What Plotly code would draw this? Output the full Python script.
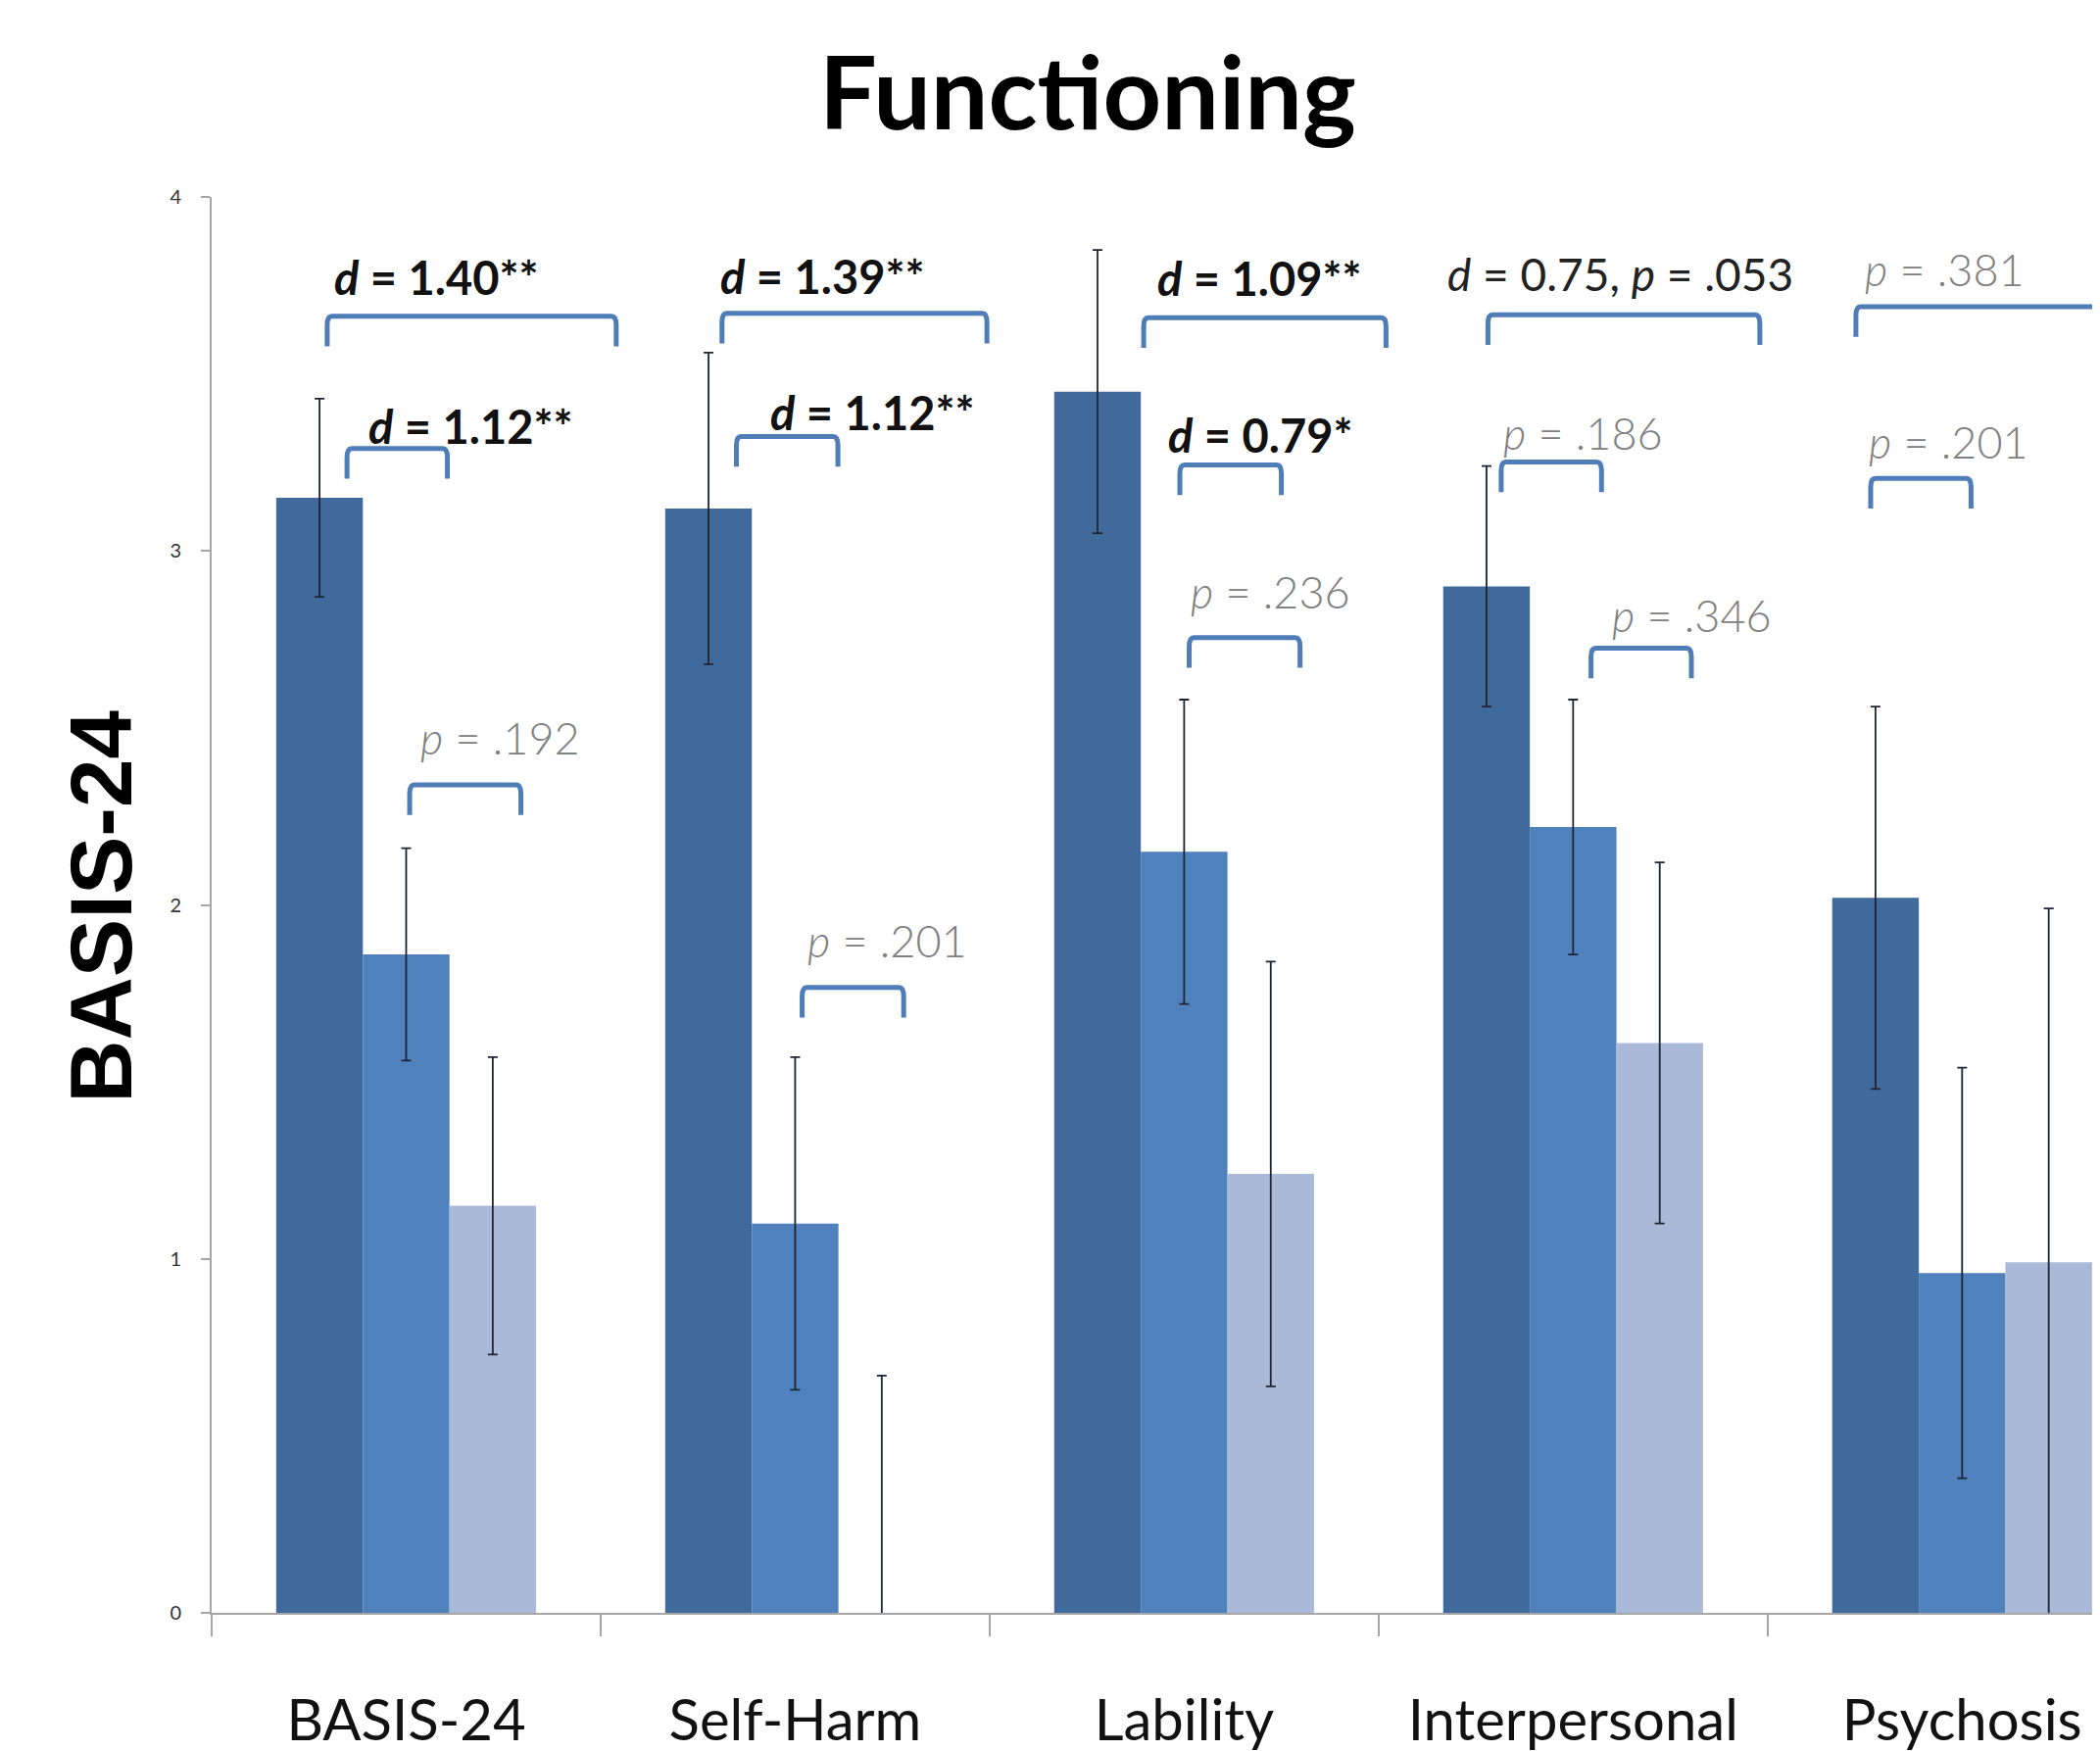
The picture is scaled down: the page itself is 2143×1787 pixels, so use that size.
import plotly.graph_objects as go

categories = ["BASIS-24", "Self-Harm", "Lability", "Interpersonal", "Psychosis"]
series_names = ["Group 1", "Group 2", "Group 3"]
dark_vals = [3.15, 3.12, 3.45, 2.90, 2.02]
dark_err = [0.28, 0.44, 0.40, 0.34, 0.54]
med_vals = [1.86, 1.10, 2.15, 2.22, 0.96]
med_err = [0.30, 0.47, 0.43, 0.36, 0.58]
light_vals = [1.15, 0.00, 1.24, 1.61, 0.99]
light_err = [0.42, 0.67, 0.60, 0.51, 1.00]
y_ticks = [0, 1, 2, 3, 4]

# significance brackets: (category, left offset, right offset, bracket top, label, label dx, label y, style)
brackets = [
    (0, -0.203, 0.540, 3.663, "d = 1.40**", 0.078, 3.773, "bold"),
    (0, -0.152, 0.106, 3.289, "d = 1.12**", 0.165, 3.353, "bold"),
    (0, 0.009, 0.295, 2.339, "p = .192", 0.241, 2.471, "gray"),
    (1, -0.188, 0.493, 3.671, "d = 1.39**", 0.070, 3.777, "bold"),
    (1, -0.151, 0.110, 3.323, "d = 1.12**", 0.197, 3.391, "bold"),
    (1, 0.018, 0.279, 1.767, "p = .201", 0.238, 1.900, "gray"),
    (2, -0.104, 0.519, 3.659, "d = 1.09**", 0.192, 3.769, "bold"),
    (2, -0.011, 0.250, 3.243, "d = 0.79*", 0.195, 3.326, "bold"),
    (2, 0.013, 0.298, 2.755, "p = .236", 0.223, 2.884, "gray"),
    (3, -0.219, 0.480, 3.667, "d = 0.75, p = .053", 0.121, 3.784, "plain"),
    (3, -0.185, 0.073, 3.251, "p = .186", 0.025, 3.334, "gray"),
    (3, 0.046, 0.304, 2.725, "p = .346", 0.304, 2.819, "gray"),
    (4, -0.273, 0.347, 3.690, "p = .381", -0.046, 3.796, "gray"),
    (4, -0.235, 0.023, 3.205, "p = .201", -0.035, 3.307, "gray"),
]

colors = ["#416A9C", "#4F81BD", "#A9B9D7"]
FONT = "Lato"
x_idx = list(range(len(categories)))

fig = go.Figure()
for name, vals, errs, col in zip(series_names, [dark_vals, med_vals, light_vals],
                                 [dark_err, med_err, light_err], colors):
    fig.add_trace(go.Bar(
        x=x_idx, y=vals, name=name, marker=dict(color=col, line=dict(width=0)),
        error_y=dict(type="data", array=errs, visible=True, color="#1f2433",
                     thickness=1.8, width=5),
    ))

drop = 0.085
rx = 0.012
cy = 0.025
for cat, lo, hi, top, label, ldx, ly, style in brackets:
    x0 = cat + lo
    x1 = cat + hi
    yd = top - drop
    path = (f"M {x0},{yd} L {x0},{top - cy} Q {x0},{top} {x0 + rx},{top} "
            f"L {x1 - rx},{top} Q {x1},{top} {x1},{top - cy} L {x1},{yd}")
    fig.add_shape(type="path", path=path, xref="x", yref="y",
                  line=dict(color="#4F7DB8", width=5))
    if style == "bold":
        head, rest = label.split(" ", 1)
        txt = f"<b><i>{head}</i> {rest}</b>"
        fcol = "#111111"
        weight = "bold"
        size = 47
    elif style == "plain":
        txt = label.replace("d =", "<i>d</i> =").replace("p =", "<i>p</i> =")
        fcol = "#222222"
        weight = "normal"
        size = 46
    else:
        txt = label.replace("p =", "<i>p</i> =")
        fcol = "#808080"
        weight = 300
        size = 45
    fig.add_annotation(x=cat + ldx, y=ly, xref="x", yref="y", text=txt,
                       showarrow=False, xanchor="center", yanchor="middle",
                       font=dict(family=FONT, size=size, color=fcol, weight=weight))

# y-axis title
fig.add_annotation(x=-0.0586, y=0.4985, xref="paper", yref="paper", text="<b>BASIS-24</b>",
                   textangle=-90, showarrow=False, xanchor="center", yanchor="middle",
                   font=dict(family="Liberation Sans", size=89, color="#000000"))

fig.update_layout(
    width=2143, height=1787,
    margin=dict(l=208, r=7, t=193, b=147),
    paper_bgcolor="white", plot_bgcolor="white",
    barmode="group", bargap=0.332, bargroupgap=0,
    showlegend=False,
    title=dict(text="<b>Functioning</b>", x=0.5142, y=0.9508, xanchor="center", yanchor="middle",
               font=dict(family=FONT, size=104, color="#000000")),
    xaxis=dict(
        range=[-0.5, 4.357], tickmode="array", tickvals=x_idx, ticktext=categories,
        ticks="", showgrid=False, zeroline=False,
        showline=True, linecolor="#A6A6A6", linewidth=2,
        tickfont=dict(family=FONT, size=58, color="#111111"),
        ticklabelstandoff=58,
        minor=dict(tickmode="array", tickvals=[-0.5, 0.5, 1.5, 2.5, 3.5], ticks="outside",
                   ticklen=22, tickwidth=2, tickcolor="#A6A6A6", showgrid=False),
    ),
    yaxis=dict(
        range=[0, 4], tickmode="array", tickvals=y_ticks, ticktext=[str(v) for v in y_ticks],
        ticks="outside", ticklen=9, tickwidth=2, tickcolor="#A6A6A6",
        showgrid=False, zeroline=False, showline=True, linecolor="#A6A6A6", linewidth=2,
        tickfont=dict(family=FONT, size=20, color="#333333"),
        ticklabelstandoff=16,
    ),
)

fig.write_html("out.html")
